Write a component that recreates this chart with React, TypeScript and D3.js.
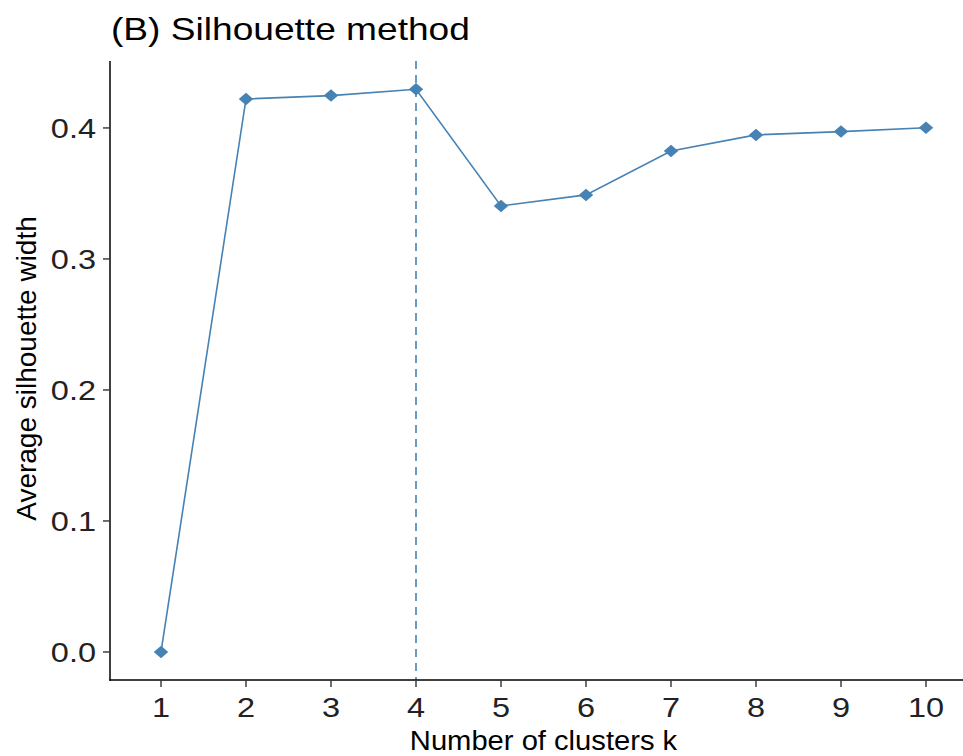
import React from "react";
import * as d3 from "d3";

const clusters = [1, 2, 3, 4, 5, 6, 7, 8, 9, 10];
const silhouette = [0.0, 0.4221, 0.4247, 0.4295, 0.3405, 0.3489, 0.3824, 0.3947, 0.3972, 0.4002];
const yTicks = [0.0, 0.1, 0.2, 0.3, 0.4];
const optimalK = 4;
const title = "(B) Silhouette method";
const xTitle = "Number of clusters k";
const yTitle = "Average silhouette width";

const W = 963;
const H = 756;
const left = 110;
const top = 61;
const bottom = 680;
const right = 977;
const COLOR = "#4682B4";
const FONT = "'Liberation Sans', Arial, Helvetica, sans-serif";
const SX = 1.16;

export default function App() {
  const x = d3.scaleLinear().domain([0.4, 10.6]).range([left, right]);
  const y = d3.scaleLinear().domain([-0.0214, 0.4511]).range([bottom, top]);
  const line = d3
    .line<number>()
    .x((_, i) => x(clusters[i]))
    .y((d) => y(d));
  const diamond = d3.symbol().type(d3.symbolSquare).size(78)() as string;

  return (
    <svg
      width={W}
      height={H}
      style={{ position: "absolute", left: 0, top: 0, background: "#fff", display: "block" }}
      fontFamily={FONT}
    >
      <rect x={0} y={0} width={W} height={H} fill="#fff" />
      <g transform={`translate(${left + 1},40) scale(${SX},1)`}>
        <text fontSize={32} fill="#000">{title}</text>
      </g>
      <line
        x1={x(optimalK)}
        x2={x(optimalK)}
        y1={top}
        y2={bottom}
        stroke={COLOR}
        strokeWidth={1.6}
        strokeDasharray="8,6"
      />
      <path d={line(silhouette) as string} fill="none" stroke={COLOR} strokeWidth={1.6} />
      {silhouette.map((v, i) => (
        <path
          key={i}
          d={diamond}
          transform={`translate(${x(clusters[i])},${y(v)}) scale(${SX},1) rotate(45)`}
          fill={COLOR}
        />
      ))}
      <line x1={left} x2={left} y1={top} y2={bottom + 0.75} stroke="#000" strokeWidth={1.5} />
      <line x1={left - 0.75} x2={W} y1={bottom} y2={bottom} stroke="#000" strokeWidth={1.5} />
      {yTicks.map((t) => (
        <g key={t}>
          <line x1={left - 7} x2={left} y1={y(t)} y2={y(t)} stroke="#333" strokeWidth={1.4} />
          <g transform={`translate(${left - 14},${y(t) + 10}) scale(${SX},1)`}>
            <text fontSize={28} fill="#222" textAnchor="end">
              {t.toFixed(1)}
            </text>
          </g>
        </g>
      ))}
      {clusters.map((k) => (
        <g key={k}>
          <line x1={x(k)} x2={x(k)} y1={bottom} y2={bottom + 7} stroke="#333" strokeWidth={1.4} />
          <g transform={`translate(${x(k)},717) scale(${SX},1)`}>
            <text fontSize={28} fill="#222" textAnchor="middle">
              {k}
            </text>
          </g>
        </g>
      ))}
      <g transform={`translate(${(left + right) / 2},750) scale(1.08,1)`}>
        <text fontSize={27} fill="#000" textAnchor="middle">{xTitle}</text>
      </g>
      <g transform={`translate(36,${(top + bottom) / 2 - 2}) rotate(-90)`}>
        <text fontSize={28} fill="#000" textAnchor="middle">{yTitle}</text>
      </g>
    </svg>
  );
}
